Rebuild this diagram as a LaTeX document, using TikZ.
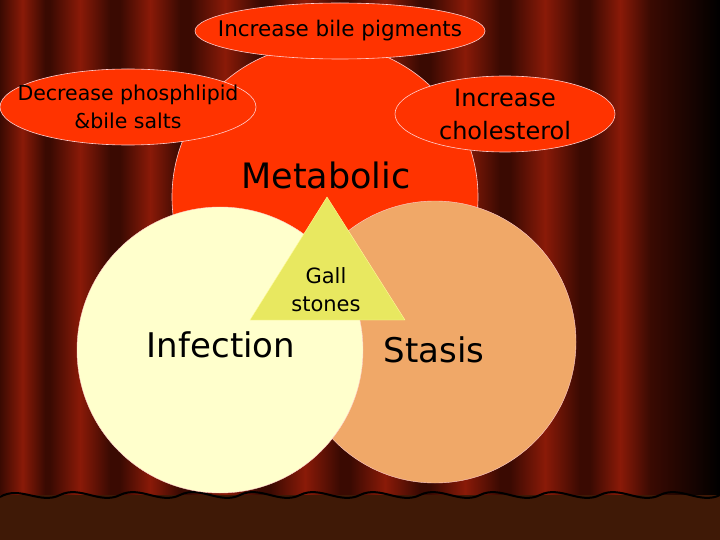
\documentclass[tikz,border=0pt]{standalone}
\usepackage{fontspec}
\usetikzlibrary{shapes.geometric}
\setmainfont{DejaVu Sans}
\begin{document}
\begin{tikzpicture}[x=1pt,y=-1pt,
  bub/.style={draw=white!80!red,line width=0.6pt,fill=red1},
  lbl/.style={font=\fontsize{20.5}{22}\selectfont,align=center,text=black}]
\definecolor{red1}{HTML}{FF3300}
\definecolor{cream}{HTML}{FFFFCC}
\definecolor{stasisc}{HTML}{F0A868}
\definecolor{tri}{HTML}{E8E860}
\definecolor{cdark}{HTML}{3A0A02}
\definecolor{cmid}{HTML}{8A1A08}
\definecolor{cbrown}{HTML}{6A2A0A}
\useasboundingbox (0,0) rectangle (720,540);
\fill[cdark] (0,0) rectangle (720,540);
% curtain stripes
\foreach \xa/\w in {0/45,50/60,120/60,190/70,270/70,350/70,430/70,510/70,590/60}{
  \shade[left color=cdark,right color=cdark,middle color=cmid] (\xa,0) rectangle (\xa+\w,500);
}
\shade[left color=cdark,right color=black] (650,0) rectangle (720,500);
\fill[cbrown!60!black] (0,495) rectangle (720,540);
\draw[black,line width=2pt] (0,497) \foreach \i in {0,...,11}{ .. controls (\i*60+20,485) and (\i*60+40,505) .. (\i*60+60,495)};
% circles
\node[bub,circle,minimum size=306pt] (met) at (325,197) {};
\node[draw=white!80!red,fill=stasisc,circle,minimum size=282pt] (sta) at (435,342) {};
\node[draw=white!80!red,fill=cream,circle,minimum size=286pt] (inf) at (220,350) {};
\fill[tri,draw=white!60!yellow] (327,197) -- (250,320) -- (405,320) -- cycle;
\node[lbl,font=\fontsize{21}{28}\selectfont] (gall) at (326,290) {Gall\\stones};
\node[font=\fontsize{35}{40}\selectfont] (metl) at (326,175) {Metabolic};
\node[font=\fontsize{34}{38}\selectfont] (infl) at (221,345) {Infection};
\node[font=\fontsize{34}{38}\selectfont] (stal) at (434,350) {Stasis};
% ellipses
\node[bub,ellipse,minimum width=290pt,minimum height=56pt,inner sep=0pt] (e1) at (340,31) {};
\node[lbl,font=\fontsize{21.5}{24}\selectfont] at (e1) {Increase bile pigments};
\node[bub,ellipse,minimum width=256pt,minimum height=76pt,inner sep=0pt] (e2) at (128,107) {};
\node[lbl,font=\fontsize{20.5}{28}\selectfont] at (e2) {Decrease phosphlipid\\\&bile salts};
\node[bub,ellipse,minimum width=220pt,minimum height=76pt,inner sep=0pt] (e3) at (505,114) {};
\node[lbl,font=\fontsize{24}{33}\selectfont] at (e3) {Increase\\cholesterol};
\end{tikzpicture}
\end{document}
